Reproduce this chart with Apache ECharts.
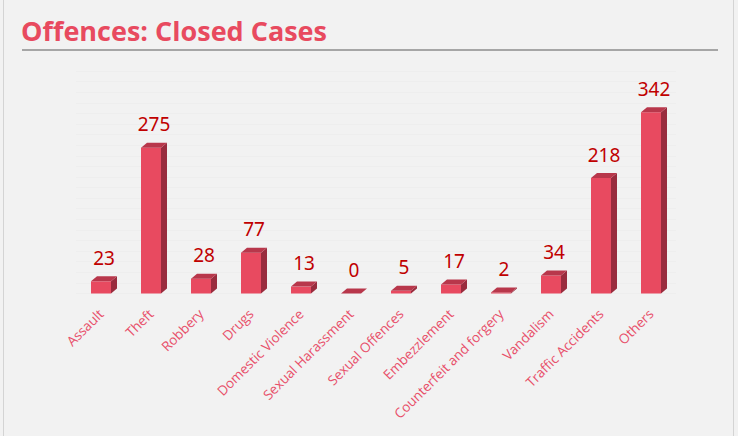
<!DOCTYPE html>
<html>
<head>
<meta charset="utf-8">
<script src="https://cdn.jsdelivr.net/npm/echarts@6/dist/echarts.min.js"></script>
<style>
html,body{margin:0;padding:0;background:#f2f2f2;}
#main{width:738px;height:436px;}
</style>
</head>
<body>
<div id="main"></div>
<script>
const titleText = 'Offences: Closed Cases';
const categories = ['Assault','Theft','Robbery','Drugs','Domestic Violence','Sexual Harassment','Sexual Offences','Embezzlement','Counterfeit and forgery','Vandalism','Traffic Accidents','Others'];
const closedCases = [23,275,28,77,13,0,5,17,2,34,218,342];

const chart = echarts.init(document.getElementById('main'), null, {renderer:'svg'});
const DX = 6, DY = 5;
function renderBar(params, api){
  const idx = api.value(0), val = api.value(1);
  const base = api.coord([idx, 0]);
  const top = api.coord([idx, val]);
  const w = api.size([1,0])[0]*0.4;
  const x = base[0]-w/2;
  return {type:'group', children:[
    {type:'polygon', shape:{points:[[x+w,top[1]],[x+w+DX,top[1]-DY],[x+w+DX,base[1]-DY],[x+w,base[1]]]}, style:{fill:'#992c3e'}},
    {type:'rect', shape:{x:x,y:top[1],width:w,height:base[1]-top[1]}, style:{fill:'#e84a60'}},
    {type:'polygon', shape:{points:[[x,top[1]],[x+DX,top[1]-DY],[x+w+DX,top[1]-DY],[x+w,top[1]]]}, style:{fill:'#b8374b'}},
    {type:'text', style:{text:String(val), x:base[0]+DX/2, y:top[1]-DY-9, align:'center', verticalAlign:'bottom', fill:'#c00000', fontSize:19, fontFamily:'Noto Sans'}}
  ]};
}
chart.setOption({
  backgroundColor:'#f2f2f2',
  animation:false,
  graphic:[
    {type:'line', shape:{x1:3.5,y1:0,x2:3.5,y2:436}, style:{stroke:'#d4d4d4',lineWidth:1}},
    {type:'line', shape:{x1:733.5,y1:0,x2:733.5,y2:436}, style:{stroke:'#d4d4d4',lineWidth:1}},
    {type:'text', left:21, top:17, style:{text:titleText, fill:'#e84a5f', fontSize:27, fontWeight:'bold', fontFamily:'Open Sans'}},
    {type:'line', shape:{x1:22,y1:50,x2:718,y2:50}, style:{stroke:'#a6a6a6',lineWidth:2}}
  ],
  grid:{left:76, right:62, top:71, bottom:142.5},
  xAxis:{type:'category', data:categories, boundaryGap:true,
    axisLine:{show:false}, axisTick:{show:false},
    axisLabel:{rotate:45, interval:0, margin:18, color:'#e8506a', fontSize:13.5, fontFamily:'Open Sans'}},
  yAxis:{type:'value', min:0, max:420, interval:20, axisLabel:{show:false}, axisLine:{show:false}, axisTick:{show:false},
    splitLine:{show:true, lineStyle:{color:'#eeeeee', width:1}}},
  series:[{type:'custom', renderItem:renderBar, data:closedCases.map((v,i)=>[i,v])}]
});
</script>
</body>
</html>
